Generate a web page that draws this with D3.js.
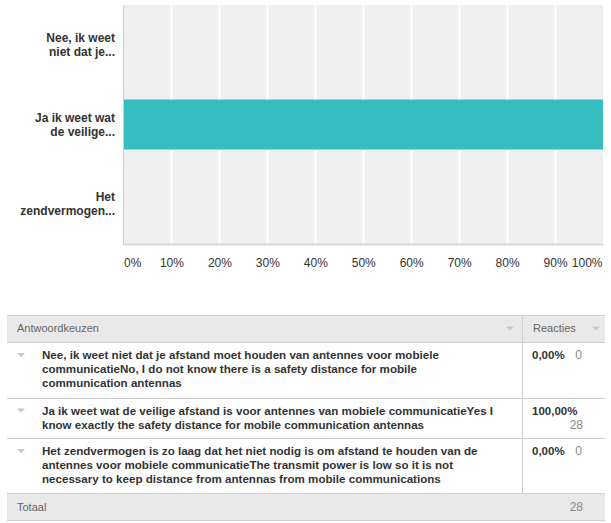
<!DOCTYPE html>
<html><head><meta charset="utf-8">
<script src="https://cdn.jsdelivr.net/npm/d3@7"></script>
<style>
body{margin:0;background:#fff;}
svg{display:block;font-family:"Liberation Sans",Arial,sans-serif;}
</style></head><body>
<svg id="c" width="611" height="523"></svg>
<script>
// ---- data ----
const categories = ["Nee, ik weet niet dat je...", "Ja ik weet wat de veilige...", "Het zendvermogen..."];
const axisLabelLines = [["Nee, ik weet","niet dat je..."],["Ja ik weet wat","de veilige..."],["Het","zendvermogen..."]];
const percentages = [0, 100, 0];
const counts = [0, 28, 0];
const percentLabels = ["0,00%", "100,00%", "0,00%"];
const fullAnswerLines = [
  ["Nee, ik weet niet dat je afstand moet houden van antennes voor mobiele","communicatieNo, I do not know there is a safety distance for mobile","communication antennas"],
  ["Ja ik weet wat de veilige afstand is voor antennes van mobiele communicatieYes I","know exactly the safety distance for mobile communication antennas"],
  ["Het zendvermogen is zo laag dat het niet nodig is om afstand te houden van de","antennes voor mobiele communicatieThe transmit power is low so it is not","necessary to keep distance from antennas from mobile communications"]
];
const tickValues = [0,10,20,30,40,50,60,70,80,90,100];
const headerLabels = ["Antwoordkeuzen", "Reacties"];
const totalLabel = "Totaal";
const total = 28;

const svg = d3.select("#c");

// ---- chart ----
const x = d3.scaleLinear().domain([0,100]).range([123.5,603]);
const y = d3.scaleBand().domain(categories).range([5,244]).paddingInner(0.371).paddingOuter(0.19);

svg.append("rect").attr("x",x(0)).attr("y",5).attr("width",x(100)-x(0)).attr("height",239).attr("fill","#efefef");

svg.append("g").selectAll("line").data(tickValues.slice(1,-1)).join("line")
  .attr("x1",d=>Math.round(x(d))+0.5).attr("x2",d=>Math.round(x(d))+0.5)
  .attr("y1",5).attr("y2",244).attr("stroke","#fff").attr("stroke-width",2);

svg.append("g").selectAll("rect").data(categories).join("rect")
  .attr("x",x(0)).attr("y",d=>y(d)).attr("height",y.bandwidth())
  .attr("width",(d,i)=>x(percentages[i])-x(0)).attr("fill","#35bdbf");

// left axis line
svg.append("line").attr("x1",123.5).attr("x2",123.5).attr("y1",5).attr("y2",245).attr("stroke","#d0d0d0").attr("stroke-width",1);
// bottom axis
const xa = svg.append("g").attr("transform","translate(0,244)")
  .call(d3.axisBottom(x).tickValues(tickValues).tickFormat(d=>d+"%").tickSize(0).tickPadding(14));
xa.select(".domain").attr("stroke","#d8d8d8").attr("stroke-width",2);
xa.selectAll("text").attr("font-size",12).attr("fill","#333").attr("font-family","'Liberation Sans',Arial,sans-serif")
  .attr("text-anchor",(d,i)=> i===0?"start":(i===tickValues.length-1?"end":"middle"))
  .attr("dx",(d,i)=> i===tickValues.length-1?-1:0);

// category labels
const lab = svg.append("g").selectAll("text").data(categories).join("text")
  .attr("text-anchor","end").attr("font-size",12).attr("font-weight","bold").attr("fill","#333");
lab.each(function(d,i){
  const lines = axisLabelLines[i];
  const cy = y(d)+y.bandwidth()/2;
  d3.select(this).selectAll("tspan").data(lines).join("tspan")
    .attr("x",115).attr("y",(l,j)=>cy+(j-(lines.length-1)/2)*14).attr("dy","0.35em").text(l=>l);
});

// ---- table ----
const tL = 7, tR = 605, colX = 522;
const rowTops = [315, 342, 397.5, 438, 493, 520];
const g = svg.append("g");
// header & total bg
g.append("rect").attr("x",tL).attr("y",rowTops[0]).attr("width",tR-tL).attr("height",rowTops[1]-rowTops[0]).attr("fill","#e9e9e9");
g.append("rect").attr("x",tL).attr("y",rowTops[4]).attr("width",tR-tL).attr("height",rowTops[5]-rowTops[4]).attr("fill","#e9e9e9");
// horizontal lines
g.selectAll("line.h").data(rowTops).join("line").attr("class","h")
  .attr("x1",tL).attr("x2",tR).attr("y1",d=>Math.round(d)+0.5).attr("y2",d=>Math.round(d)+0.5)
  .attr("stroke","#cfcfcf");
// vertical divider
g.append("line").attr("x1",colX+0.5).attr("x2",colX+0.5).attr("y1",rowTops[0]).attr("y2",rowTops[4]).attr("stroke","#cfcfcf");

// header text
g.append("text").attr("x",17).attr("y",328.5).attr("dy","0.35em").attr("font-size",11).attr("fill","#666").text(headerLabels[0]);
g.append("text").attr("x",533).attr("y",328.5).attr("dy","0.35em").attr("font-size",11).attr("fill","#666").text(headerLabels[1]);
const tri = (cx,cy)=>`M${cx-4},${cy-2}L${cx+4},${cy-2}L${cx},${cy+2}Z`;
g.append("path").attr("d",tri(510,328.5)).attr("fill","#c8c8c8");
g.append("path").attr("d",tri(596,328.5)).attr("fill","#c8c8c8");

// rows
fullAnswerLines.forEach((lines,i)=>{
  const top = rowTops[i+1];
  const firstY = top + 13;
  g.append("path").attr("d",tri(21,firstY)).attr("fill","#c8c8c8");
  g.append("text").attr("font-size",11.6).attr("font-weight","bold").attr("fill","#333")
    .selectAll("tspan").data(lines).join("tspan").attr("x",42).attr("y",(l,j)=>firstY+j*14).attr("dy","0.35em").text(l=>l);
  g.append("text").attr("x",532).attr("y",firstY).attr("dy","0.35em").attr("font-size",11.5).attr("font-weight","bold").attr("fill","#333").text(percentLabels[i]);
  const twoLine = percentLabels[i].length>5;
  g.append("text").attr("x",twoLine?583:582).attr("y",twoLine?firstY+14:firstY).attr("dy","0.35em").attr("text-anchor","end")
    .attr("font-size",12).attr("fill","#888").text(counts[i]);
});
// total
g.append("text").attr("x",17).attr("y",507).attr("dy","0.35em").attr("font-size",11).attr("fill","#666").text(totalLabel);
g.append("text").attr("x",583).attr("y",507).attr("dy","0.35em").attr("text-anchor","end").attr("font-size",12).attr("fill","#888").text(total);
</script>
</body></html>
